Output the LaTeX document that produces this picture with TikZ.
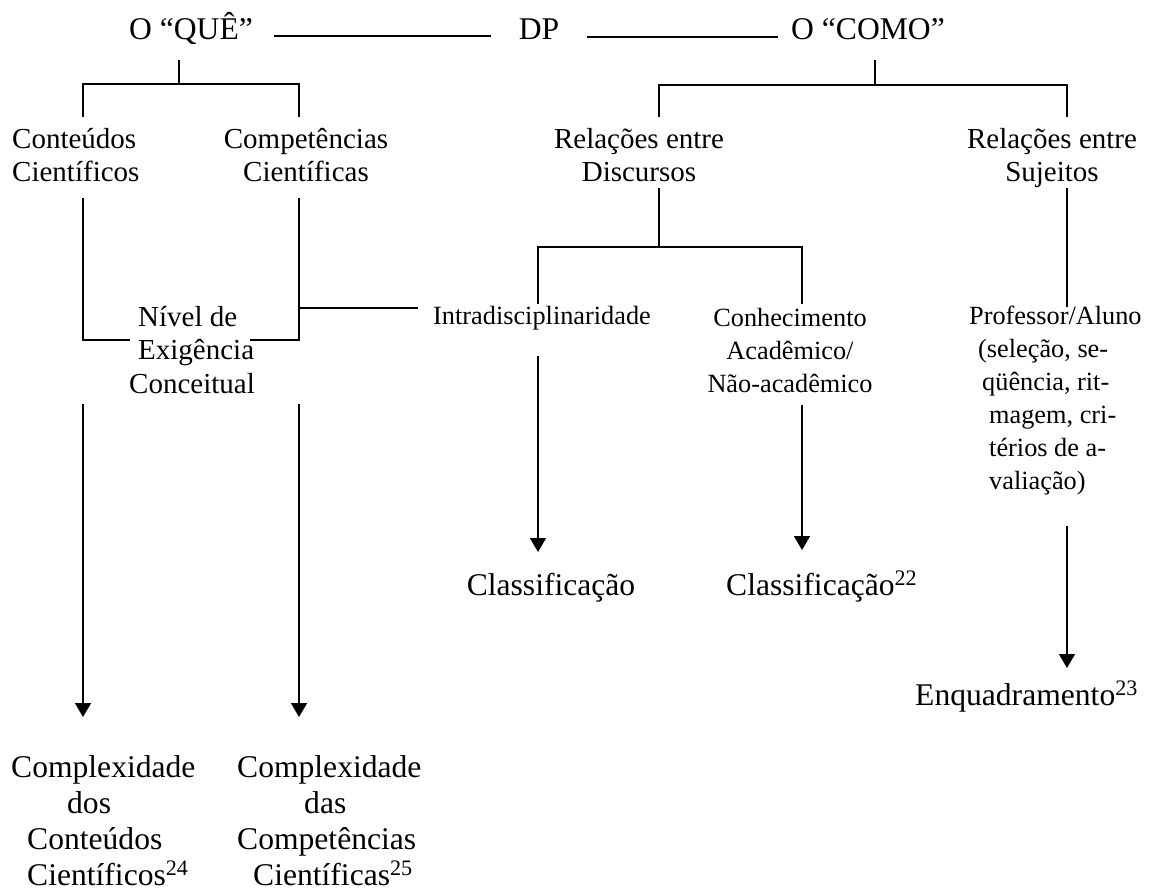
\documentclass[tikz,border=0pt]{standalone}
\usepackage{fontspec}
\setmainfont{Liberation Serif}
\usetikzlibrary{arrows.meta}
\begin{document}
\begin{tikzpicture}[x=1pt,y=-1pt,
  big/.style={font=\fontsize{31.6}{36}\selectfont, inner sep=0pt},
  mid/.style={font=\fontsize{29}{33.5}\selectfont, inner sep=0pt, align=center},
  small/.style={font=\fontsize{26.3}{33}\selectfont, inner sep=0pt, align=center},
  link/.style={line width=1.7pt},
  arr/.style={link, -{Triangle[width=16pt,length=14pt]}}
]
\useasboundingbox (0,0) rectangle (1149,893);

% top row
\node[big, anchor=base] (que)  at (191,40) {O “QUÊ”};
\node[big, anchor=base] (dp)   at (539,40) {DP};
\node[big, anchor=base] (como) at (868,40) {O “COMO”};
\draw[link] ([shift={(21,-4)}]que.base east) -- ([shift={(-28,-4)}]dp.base west);
\draw[link] ([shift={(28,-3)}]dp.base east) -- ([shift={(-13,-3)}]como.base west);

% second row (base anchor = baseline of the last line)
\node[mid, anchor=base west, align=left] (cont) at (12,182) {Conteúdos\\Científicos};
\node[mid, anchor=base] (comp) at (306,182)  {Competências\\Científicas};
\node[mid, anchor=base] (rd)   at (639,182)  {Relações entre\\Discursos};
\node[mid, anchor=base] (rs)   at (1052,182) {Relações entre\\Sujeitos};

% bracket under O "QUÊ"
\coordinate (qs) at (179,60);
\coordinate (qb) at (179,84);
\coordinate (qa) at (83,117);
\coordinate (qc) at (299,117);
\draw[link] (qs) -- (qb);
\draw[link] (qa) |- (qb) -| (qc);

% bracket under O "COMO"
\coordinate (ks) at (875,60);
\coordinate (kb) at (875,85);
\coordinate (ka) at (659,117);
\coordinate (kc) at (1067,117);
\draw[link] (ks) -- (kb);
\draw[link] (ka) |- (kb) -| (kc);

% level of conceptual demand
\node[mid, anchor=base west, align=left] (niv) at (129,393)
  {\hspace*{9pt}Nível de\\\hspace*{9pt}Exigência\\Conceitual};
\coordinate (cv1) at (83,198);
\coordinate (cv2) at (83,340);
\coordinate (pv1) at (299,198);
\coordinate (pv2) at (299,340);
\coordinate (pbr) at (299,308);
\draw[link] (cv1) -- (cv2) -- ++(47,0);
\draw[link] (pv1) -- (pv2) -- ++(-49,0);

% discourse relations
\node[small, anchor=base west] (intra) at (433,325) {Intradisciplinaridade};
\node[small, anchor=base] (conh) at (790,392) {Conhecimento\\Acadêmico/\\Não-acadêmico};
\draw[link, shorten >=15pt] (pbr) -- (pbr -| intra.west);
\coordinate (ds) at (659,188);
\coordinate (db) at (659,247);
\coordinate (da) at (538,304);
\coordinate (dc) at (802,304);
\draw[link] (ds) -- (db);
\draw[link] (da) |- (db) -| (dc);

% subject relations
\node[small, anchor=base west, align=left] (prof) at (969,489)
  {Professor/Aluno\\\hspace*{9pt}(seleção, se-\\\hspace*{13pt}qüência, rit-\\\hspace*{20pt}magem, cri-\\\hspace*{20pt}térios de a-\\\hspace*{20pt}valiação)};
\coordinate (ss) at (1067,188);
\coordinate (se) at (1067,307);
\draw[link] (ss) -- (se);

% outcomes
\node[big, anchor=base] (cl1) at (551,595) {Classificação};
\node[big, anchor=base west] (cl2) at (726,595) {Classificação\textsuperscript{22}};
\node[big, anchor=base west] (enq) at (915,705) {Enquadramento\textsuperscript{23}};
\node[big, anchor=base west, align=left] (cxl) at (11,885)
  {Complexidade\\\hspace*{56pt}dos\\\hspace*{16pt}Conteúdos\\\hspace*{16pt}Científicos\textsuperscript{24}};
\node[big, anchor=base west, align=left] (cxr) at (237,885)
  {Complexidade\\\hspace*{67pt}das\\Competências\\\hspace*{16pt}Científicas\textsuperscript{25}};

% arrows
\coordinate (a1) at (83,404);
\coordinate (a2) at (299,404);
\coordinate (a3) at (538,356);
\coordinate (a4) at (802,405);
\coordinate (a5) at (1067,526);
\draw[arr] (a1) -- (a1 |- 0,717);
\draw[arr] (a2) -- (a2 |- 0,717);
\draw[arr] (a3) -- (a3 |- 0,552);
\draw[arr] (a4) -- (a4 |- 0,550);
\draw[arr] (a5) -- (a5 |- 0,668);
\end{tikzpicture}
\end{document}
